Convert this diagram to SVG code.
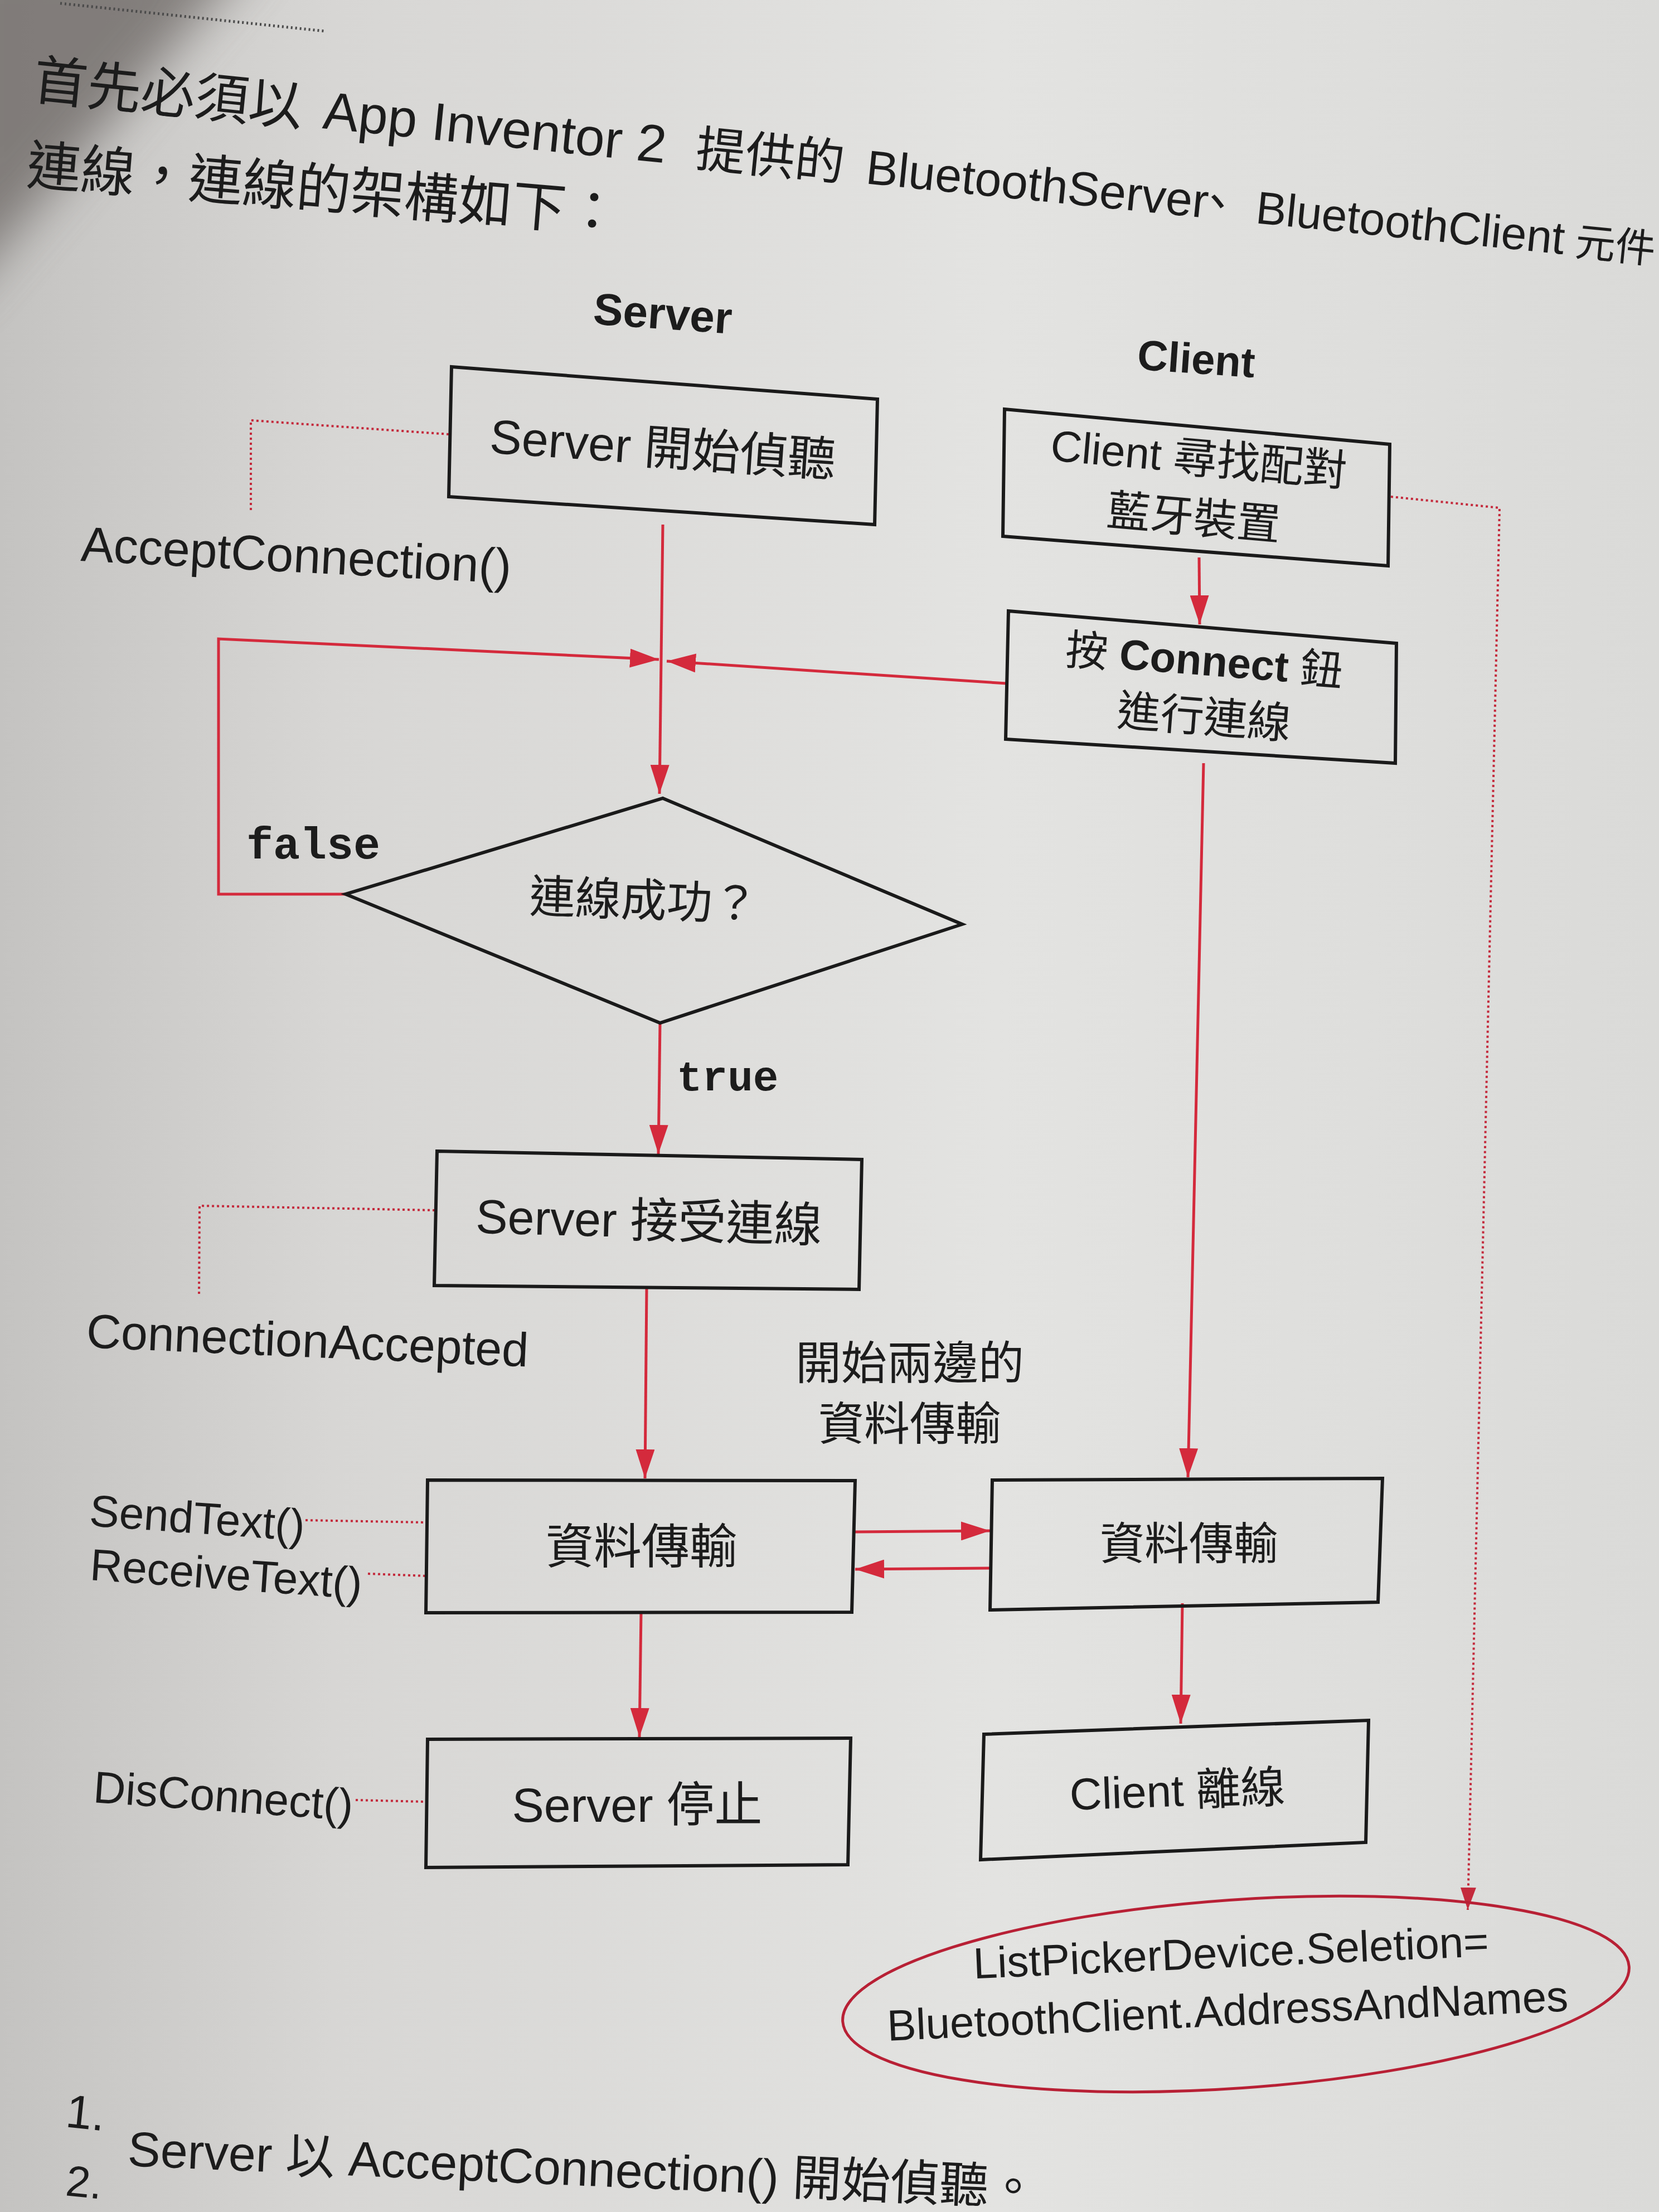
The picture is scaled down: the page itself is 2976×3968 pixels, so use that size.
<svg xmlns="http://www.w3.org/2000/svg" width="2976" height="3968" viewBox="0 0 2976 3968">
<defs>
<style>
.t{font-family:"Liberation Sans","Noto Sans CJK TC",sans-serif;fill:#1c1c1c}
.b{font-weight:bold}
.cjk{font-family:"Noto Sans CJK TC","Liberation Sans",sans-serif}
.mono{font-family:"Liberation Mono",monospace;font-weight:bold;fill:#1c1c1c}
.box{fill:none;stroke:#1a1a1a;stroke-width:6;stroke-linejoin:miter}
.flow{fill:none;stroke:#d42a3c;stroke-width:5}
.dot{fill:none;stroke:#c42a3c;stroke-width:4;stroke-dasharray:4 5}
</style>
<linearGradient id="bg" x1="0" y1="0" x2="1" y2="0">
<stop offset="0" stop-color="#c4c3c1"/>
<stop offset="0.2" stop-color="#d7d6d4"/>
<stop offset="0.6" stop-color="#e3e3e1"/>
<stop offset="1" stop-color="#dadad8"/>
</linearGradient>
<filter id="blur" x="-50%" y="-50%" width="200%" height="200%"><feGaussianBlur stdDeviation="45"/></filter>
<marker id="arr" viewBox="0 0 52 34" refX="52" refY="17" markerWidth="52" markerHeight="34" markerUnits="userSpaceOnUse" orient="auto">
<path d="M0,0 L52,17 L0,34 Z" fill="#d42a3c"/>
</marker>
<marker id="arrS" viewBox="0 0 40 28" refX="40" refY="14" markerWidth="40" markerHeight="28" markerUnits="userSpaceOnUse" orient="auto">
<path d="M0,0 L40,14 L0,28 Z" fill="#c42a3c"/>
</marker>
</defs>

<g id="background">
<rect x="0" y="0" width="2976" height="3968" fill="url(#bg)"/>
<polygon points="-100,-100 470,-100 -100,560" fill="#6f6b67" opacity="0.8" filter="url(#blur)"/>
<line x1="108" y1="6" x2="584" y2="56" stroke="#4a4a4a" stroke-width="5" stroke-dasharray="3 5"/>
</g>

<g id="intro-text">
<text class="t" y="176" transform="rotate(5.8 46 176)"><tspan class="cjk" x="57" font-size="97">首先必須以</tspan><tspan x="580" font-size="95">App Inventor 2</tspan><tspan class="cjk" x="1252" font-size="89">提供的</tspan><tspan x="1559" font-size="86">BluetoothServer</tspan><tspan class="cjk" x="2150" font-size="84">、</tspan><tspan x="2262" font-size="82">BluetoothClient</tspan><tspan class="cjk" x="2838" font-size="72">元件</tspan></text>
<text class="t cjk" x="46" y="330" font-size="97" transform="rotate(4.7 46 330)">連線，連線的架構如下：</text>
</g>

<g id="lane-headers">
<text class="t b" x="1189" y="590" font-size="80" text-anchor="middle" transform="rotate(4 1189 562)">Server</text>
<text class="t b" x="2146" y="670" font-size="76" text-anchor="middle" transform="rotate(4 2146 643)">Client</text>
</g>

<g id="connectors">
<path class="flow" d="M1189,941 L1183,1424" marker-end="url(#arr)"/>
<path class="flow" d="M620,1604 L392,1604 L392,1146 L1182,1183" marker-end="url(#arr)"/>
<path class="flow" d="M1806,1226 L1196,1186" marker-end="url(#arr)"/>
<path class="flow" d="M2151,1000 L2152,1120" marker-end="url(#arr)"/>
<path class="flow" d="M1184,1835 L1181,2070" marker-end="url(#arr)"/>
<path class="flow" d="M1160,2310 L1157,2652" marker-end="url(#arr)"/>
<path class="flow" d="M2159,1369 L2131,2650" marker-end="url(#arr)"/>
<path class="flow" d="M1534,2748 L1776,2746" marker-end="url(#arr)"/>
<path class="flow" d="M1776,2813 L1534,2815" marker-end="url(#arr)"/>
<path class="flow" d="M1150,2892 L1147,3116" marker-end="url(#arr)"/>
<path class="flow" d="M2121,2876 L2118,3092" marker-end="url(#arr)"/>
<path class="dot" d="M805,779 L450,754 L450,916"/>
<path class="dot" d="M780,2171 L358,2163 L357,2323"/>
<path class="dot" d="M548,2727 L762,2731"/>
<path class="dot" d="M660,2823 L764,2827"/>
<path class="dot" d="M638,3229 L762,3232"/>
<path class="dot" d="M2495,891 L2690,911 L2633,3426" marker-end="url(#arrS)"/>
<text class="mono" x="442" y="1540" font-size="80">false</text>
<text class="mono" x="1214" y="1956" font-size="76">true</text>
<text class="t" x="1632" y="2474" font-size="82" text-anchor="middle">開始兩邊的</text>
<text class="t" x="1632" y="2583" font-size="82" text-anchor="middle">資料傳輸</text>
</g>

<g id="method-labels">
<text class="t" x="144" y="1006" font-size="88" transform="rotate(3 144 1006)">AcceptConnection()</text>
<text class="t" x="154" y="2417" font-size="86" transform="rotate(2.5 154 2417)">ConnectionAccepted</text>
<text class="t" x="159" y="2737" font-size="80" transform="rotate(4 159 2737)">SendText()</text>
<text class="t" x="160" y="2834" font-size="80" transform="rotate(4 160 2834)">ReceiveText()</text>
<text class="t" x="166" y="3233" font-size="80" transform="rotate(4 166 3233)">DisConnect()</text>
</g>

<g id="n-server-listen">
<polygon class="box" points="810,658 1574,716 1569,941 805,891"/>
<text class="t" x="1189" y="834" font-size="86" text-anchor="middle" transform="rotate(4 1189 805)">Server 開始偵聽</text>
</g>

<g id="n-client-find">
<polygon class="box" points="1802,734 2493,797 2490,1015 1799,962"/>
<text class="t" x="2146" y="849" font-size="78" text-anchor="middle" transform="rotate(5 2146 875)">Client 尋找配對</text>
<text class="t" x="2146" y="956" font-size="78" text-anchor="middle" transform="rotate(5 2146 875)">藍牙裝置</text>
</g>

<g id="n-connect-button">
<polygon class="box" points="1809,1096 2505,1154 2503,1369 1804,1326"/>
<text class="t" x="2156" y="1211" font-size="76" text-anchor="middle" transform="rotate(4.5 2156 1235)">按 <tspan class="b">Connect</tspan> 鈕</text>
<text class="t" x="2164" y="1313" font-size="78" text-anchor="middle" transform="rotate(4.5 2156 1235)">進行連線</text>
</g>

<g id="n-connected-decision">
<polygon class="box" points="1189,1432 1726,1658 1184,1835 620,1604"/>
<text class="t" x="1155" y="1644" font-size="82" text-anchor="middle" transform="rotate(2 1155 1615)">連線成功？</text>
</g>

<g id="n-server-accept">
<polygon class="box" points="784,2065 1546,2080 1541,2313 779,2306"/>
<text class="t" x="1164" y="2220" font-size="86" text-anchor="middle" transform="rotate(1.5 1164 2191)">Server 接受連線</text>
</g>

<g id="n-server-transfer">
<polygon class="box" points="767,2655 1534,2656 1528,2892 764,2893"/>
<text class="t" x="1151" y="2805" font-size="86" text-anchor="middle">資料傳輸</text>
</g>

<g id="n-client-transfer">
<polygon class="box" points="1780,2655 2480,2652 2472,2874 1776,2888"/>
<text class="t" x="2133" y="2797" font-size="80" text-anchor="middle">資料傳輸</text>
</g>

<g id="n-server-stop">
<polygon class="box" points="767,3120 1526,3118 1521,3345 764,3350"/>
<text class="t" x="1143" y="3268" font-size="86" text-anchor="middle">Server 停止</text>
</g>

<g id="n-client-disconnect">
<polygon class="box" points="1765,3111 2455,3086 2450,3305 1759,3336"/>
<text class="t" x="2112" y="3240" font-size="80" text-anchor="middle" transform="rotate(-2 2112 3210)">Client 離線</text>
</g>

<g id="n-listpicker">
<ellipse cx="2217" cy="3577" rx="707" ry="169" fill="none" stroke="#b82035" stroke-width="5" transform="rotate(-4 2217 3577)"/>
<text class="t" x="2208" y="3529" font-size="78" text-anchor="middle" transform="rotate(-2.5 2208 3500)">ListPickerDevice.Seletion=</text>
<text class="t" x="2202" y="3634" font-size="78" text-anchor="middle" transform="rotate(-2.5 2202 3606)">BluetoothClient.AddressAndNames</text>
</g>

<g id="footer-text">
<text class="t" x="116" y="3815" font-size="84" transform="rotate(6 116 3815)">1.</text>
<text class="t" x="228" y="3885" font-size="88" transform="rotate(2.5 228 3885)">Server 以 AcceptConnection() 開始偵聽。</text>
<text class="t" x="116" y="3938" font-size="78" transform="rotate(6 116 3938)">2.</text>
</g>
</svg>
